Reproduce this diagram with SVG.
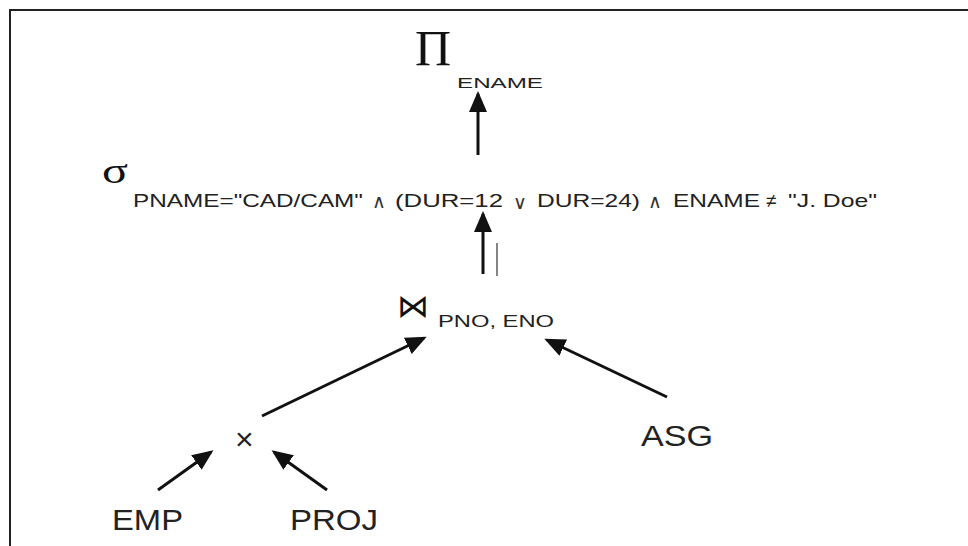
<svg xmlns="http://www.w3.org/2000/svg" width="968" height="546" viewBox="0 0 968 546">
  <style>
    .lbl { font-family: "Liberation Sans", Arial, sans-serif; fill: #222; }
    .sym { font-family: "Liberation Serif", "Times New Roman", serif; fill: #111; }
    .cond { font-family: "Liberation Sans", Arial, sans-serif; fill: #222; font-size: 19px; }
    .op { font-family: "DejaVu Sans", sans-serif; fill: #333; font-size: 19px; }
    .edge { stroke: #111; stroke-width: 3; fill: none; marker-end: url(#head); }
  </style>
  <defs>
    <marker id="head" markerWidth="7" markerHeight="6" refX="6" refY="3" orient="auto" markerUnits="strokeWidth">
      <path d="M0,0 L7,3 L0,6 Z" fill="#111"/>
    </marker>
  </defs>
  <rect width="968" height="546" fill="#fff"/>
  <rect x="10" y="10" width="980" height="560" fill="none" stroke="#222" stroke-width="2"/>

  <!-- projection on ENAME -->
  <g id="project">
    <text class="sym" x="415" y="65" font-size="50">Π</text>
    <text class="lbl" x="457" y="88" font-size="14" textLength="86" lengthAdjust="spacingAndGlyphs">ENAME</text>
  </g>

  <!-- selection predicate -->
  <g id="select">
    <text class="sym" x="102" y="183" font-size="36" textLength="26" lengthAdjust="spacingAndGlyphs">σ</text>
    <text class="cond" x="133" y="207" textLength="230" lengthAdjust="spacingAndGlyphs">PNAME="CAD/CAM"</text>
    <text class="op" x="372" y="208">∧</text>
    <text class="cond" x="395" y="207" textLength="108" lengthAdjust="spacingAndGlyphs">(DUR=12</text>
    <text class="op" x="513" y="209">∨</text>
    <text class="cond" x="537" y="207" textLength="103" lengthAdjust="spacingAndGlyphs">DUR=24)</text>
    <text class="op" x="648" y="208">∧</text>
    <text class="cond" x="673" y="207" textLength="87" lengthAdjust="spacingAndGlyphs">ENAME</text>
    <text class="cond" x="766" y="207">≠</text>
    <text class="cond" x="788" y="207" textLength="89" lengthAdjust="spacingAndGlyphs">"J. Doe"</text>
  </g>

  <!-- join on PNO, ENO -->
  <g id="join">
    <text x="397" y="317" font-family="DejaVu Sans, sans-serif" font-size="32" fill="#111">⋈</text>
    <text class="lbl" x="438" y="327" font-size="17" textLength="116" lengthAdjust="spacingAndGlyphs">PNO, ENO</text>
  </g>

  <!-- cartesian product -->
  <g id="product">
    <text class="lbl" x="235" y="450" font-size="32">×</text>
  </g>

  <g id="emp">
    <text class="lbl" x="112" y="530" font-size="30" textLength="71" lengthAdjust="spacingAndGlyphs">EMP</text>
  </g>
  <g id="proj">
    <text class="lbl" x="290" y="530" font-size="30" textLength="88" lengthAdjust="spacingAndGlyphs">PROJ</text>
  </g>
  <g id="asg">
    <text class="lbl" x="641" y="446" font-size="30" textLength="72" lengthAdjust="spacingAndGlyphs">ASG</text>
  </g>

  <g id="connectors">
    <line class="edge" x1="478" y1="155" x2="478" y2="94"/>
    <line class="edge" x1="483" y1="274" x2="483" y2="214"/>
    <line x1="497" y1="243" x2="497" y2="276" stroke="#333" stroke-width="1.2"/>
    <line class="edge" x1="262" y1="416" x2="424" y2="338"/>
    <line class="edge" x1="667" y1="397" x2="547" y2="340"/>
    <line class="edge" x1="158" y1="490" x2="211" y2="452"/>
    <line class="edge" x1="327" y1="490" x2="274" y2="452"/>
  </g>
</svg>
